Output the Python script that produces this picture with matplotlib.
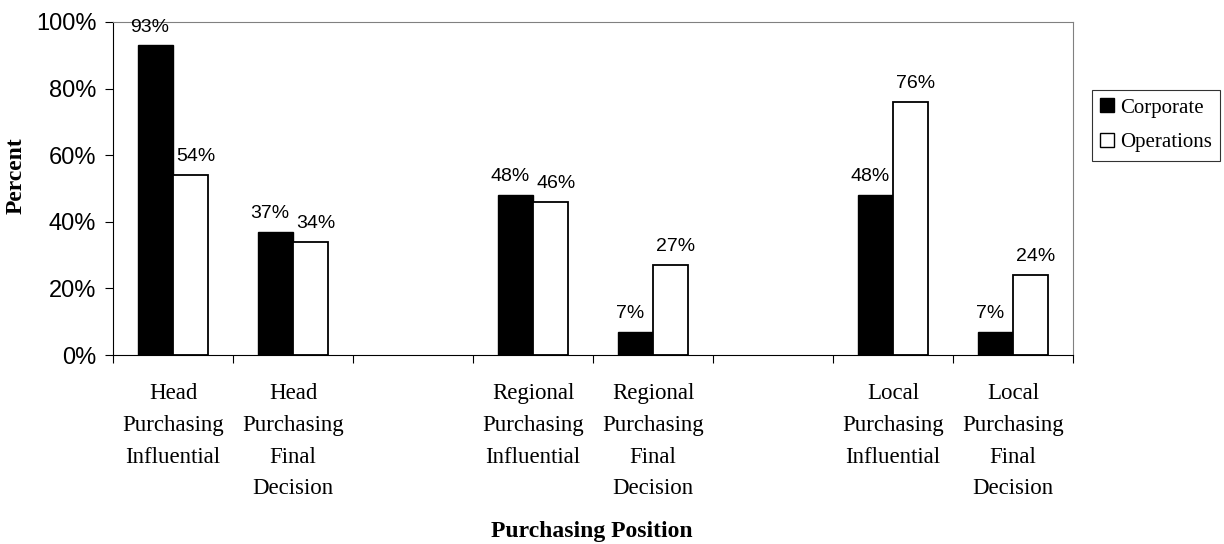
import matplotlib.pyplot as plt
import numpy as np
from matplotlib.patches import Patch

# Chart data
categories = ['Head\nPurchasing\nInfluential', 'Head\nPurchasing\nFinal\nDecision', '',
              'Regional\nPurchasing\nInfluential', 'Regional\nPurchasing\nFinal\nDecision', '',
              'Local\nPurchasing\nInfluential', 'Local\nPurchasing\nFinal\nDecision']
corporate = [93, 37, None, 48, 7, None, 48, 7]
operations = [54, 34, None, 46, 27, None, 76, 24]

sans = ['Liberation Sans', 'DejaVu Sans']
serif = ['Liberation Serif', 'DejaVu Serif']

fig = plt.figure(figsize=(12.24, 5.44), dpi=100)
ax = fig.add_axes([113 / 1224, 1 - 355 / 544, 960 / 1224, 333 / 544])

x = np.arange(len(categories))
width = 0.29
for i in range(len(categories)):
    if corporate[i] is None:
        continue
    ax.bar(x[i] - width / 2, corporate[i], width, color='black', edgecolor='black', linewidth=1)
    ax.bar(x[i] + width / 2, operations[i], width, color='white', edgecolor='black', linewidth=1.3)
    # value labels, nudged apart a little so neighbours don't collide
    ax.annotate(f'{corporate[i]}%', xy=(x[i] - width / 2, corporate[i]), xytext=(-4, 7),
                textcoords='offset points', ha='center', va='bottom', fontsize=14, family=sans)
    ax.annotate(f'{operations[i]}%', xy=(x[i] + width / 2, operations[i]), xytext=(4, 7),
                textcoords='offset points', ha='center', va='bottom', fontsize=14, family=sans)

ax.set_xlim(-0.5, len(categories) - 0.5)
ax.set_ylim(0, 100)
ax.set_yticks(range(0, 101, 20))
ax.set_yticklabels([f'{v}%' for v in range(0, 101, 20)], family=sans, fontsize=17)

# ticks at category boundaries, labels centered
ax.set_xticks(np.arange(-0.5, len(categories), 1))
ax.set_xticklabels([])
ax.set_xticks(x, minor=True)
ax.set_xticklabels(categories, minor=True, family=serif, fontsize=16.5, linespacing=1.68)
ax.tick_params(axis='x', which='minor', length=0, pad=20)
ax.tick_params(axis='x', which='major', direction='out', length=6)
ax.tick_params(axis='y', direction='out', length=6, pad=6)

for side in ['top', 'right']:
    ax.spines[side].set_color('#808080')
for side in ['left', 'bottom']:
    ax.spines[side].set_color('black')

ax.set_ylabel('Percent', family=serif, fontsize=17, fontweight='bold')
ax.yaxis.set_label_coords(-0.09, 0.54)
fig.text(592 / 1224, 1 - 532 / 544, 'Purchasing Position', ha='center', va='center',
         family=serif, fontsize=17, fontweight='bold')

handles = [Patch(facecolor='black', edgecolor='black', label='Corporate'),
           Patch(facecolor='white', edgecolor='black', label='Operations')]
leg = fig.legend(handles=handles, loc='upper left', bbox_to_anchor=(1092 / 1224, 1 - 90 / 544),
                 frameon=True, fancybox=False, edgecolor='black', prop={'family': serif, 'size': 15},
                 handlelength=0.65, handleheight=0.65, handletextpad=0.3, borderpad=0.4,
                 labelspacing=0.75, borderaxespad=0)
leg.get_frame().set_linewidth(0.8)

fig.savefig('out.png', dpi=100)
